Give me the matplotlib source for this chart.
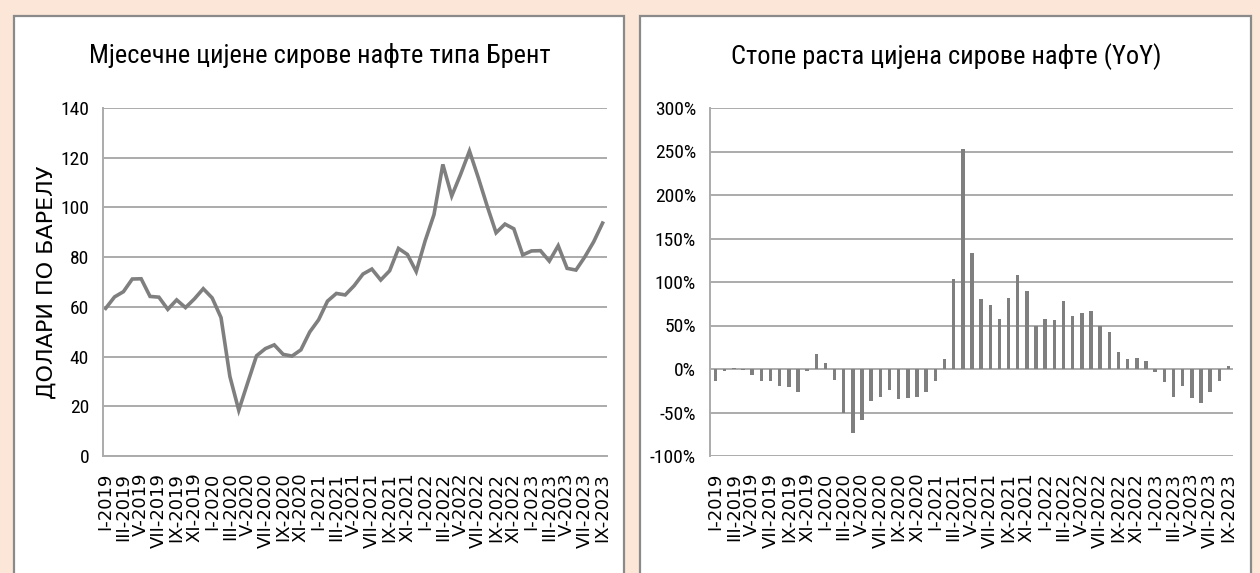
import matplotlib
matplotlib.use('Agg')
import matplotlib.pyplot as plt
from matplotlib import font_manager
from matplotlib.patches import Rectangle
from matplotlib.ticker import FuncFormatter

roman = ['I', 'II', 'III', 'IV', 'V', 'VI', 'VII', 'VIII', 'IX', 'X', 'XI', 'XII']
labels = [f'{m}-{y}' for y in range(2019, 2024) for m in roman][:57]

# Brent, USD per barrel (monthly)
brent = [59.4, 64.0, 66.1, 71.2, 71.3, 64.2, 63.9, 59.0, 62.8, 59.7, 63.2, 67.3,
         63.6, 55.7, 32.0, 18.4, 29.4, 40.3, 43.2, 44.7, 40.9, 40.2, 42.7, 49.9,
         54.8, 62.3, 65.4, 64.8, 68.5, 73.2, 75.2, 70.8, 74.5, 83.5, 81.1, 74.2,
         86.5, 97.1, 117.3, 104.6, 113.3, 122.7, 111.9, 100.5, 89.8, 93.3, 91.4, 80.9,
         82.5, 82.6, 78.4, 84.6, 75.5, 74.8, 80.1, 86.2, 93.7]

# year-on-year growth, %
yoy = [-14, -2, 1, -1, -7, -14, -14, -19, -21, -26, -2, 17,
       7, -13, -51, -74, -59, -37, -32, -24, -35, -33, -32, -26,
       -14, 12, 104, 253, 133, 81, 73, 57, 82, 108, 90, 49,
       57, 56, 78, 61, 64, 67, 49, 42, 20, 12, 13, 9,
       -4, -15, -32, -20, -33, -39, -27, -14, 4]

available = {f.name for f in font_manager.fontManager.ttflist}
narrow = next(n for n in ['Liberation Sans Narrow', 'Roboto Condensed', 'Open Sans Condensed',
                          'DejaVu Sans'] if n in available)

W, H = 1260, 573
bg = '#FBE6D7'
grid_c = '#ababab'
mark_c = '#7f7f7f'

fig = plt.figure(figsize=(12.6, 5.73), dpi=100, facecolor=bg)

def px(x0, y0, x1, y1):
    return [x0 / W, 1 - y1 / H, (x1 - x0) / W, (y1 - y0) / H]

for x0, x1 in [(14, 624), (640, 1251)]:
    fig.patches.append(Rectangle((x0 / W, -0.02), (x1 - x0) / W, 1 - 16 / H + 0.02,
                                 transform=fig.transFigure, facecolor='white',
                                 edgecolor='#8a8a8a', lw=1.6, zorder=-5))

x = list(range(len(labels)))

def style(ax):
    ax.set_facecolor('none')
    ax.yaxis.grid(True, color=grid_c, lw=1.4)
    ax.set_axisbelow(True)
    for s in ['top', 'right']:
        ax.spines[s].set_visible(False)
    for s in ['left', 'bottom']:
        ax.spines[s].set_color(grid_c)
        ax.spines[s].set_linewidth(1.4)
    ax.set_xticks(x[::2])
    ax.set_xticklabels(labels[::2], rotation=90)
    ax.tick_params(length=0)
    ax.tick_params(axis='y', pad=10, labelsize=14, labelfontfamily=narrow)
    ax.tick_params(axis='x', pad=12, labelsize=13, labelfontfamily='DejaVu Sans')

# left panel: monthly prices
ax1 = fig.add_axes(px(103, 108, 607, 456))
ax1.plot(x, brent, color=mark_c, lw=2.6, solid_joinstyle='miter')
ax1.set_ylim(0, 140)
ax1.set_yticks(range(0, 141, 20))
ax1.set_xlim(-0.3, 56.5)
style(ax1)
fig.text(320 / W, 1 - 55 / H, 'Мјесечне цијене сирове нафте типа Брент',
         ha='center', va='center', fontsize=19, family=narrow)
fig.text(47 / W, 1 - 282 / H, 'ДОЛАРИ ПО БАРЕЛУ', rotation=90,
         ha='center', va='center', fontsize=16, family='DejaVu Sans')

# right panel: YoY growth
ax2 = fig.add_axes(px(710, 108, 1233, 456))
ax2.bar(x, yoy, width=0.38, color=mark_c)
ax2.set_ylim(-100, 300)
ax2.set_yticks(range(-100, 301, 50))
ax2.yaxis.set_major_formatter(FuncFormatter(lambda v, p: f'{int(v)}%'))
ax2.set_xlim(-0.6, 56.5)
style(ax2)
ax2.spines['bottom'].set_visible(False)
fig.text(946 / W, 1 - 57 / H, 'Стопе раста цијена сирове нафте (YoY)',
         ha='center', va='center', fontsize=19, family=narrow)

fig.savefig('out.png', dpi=100, facecolor=bg)
